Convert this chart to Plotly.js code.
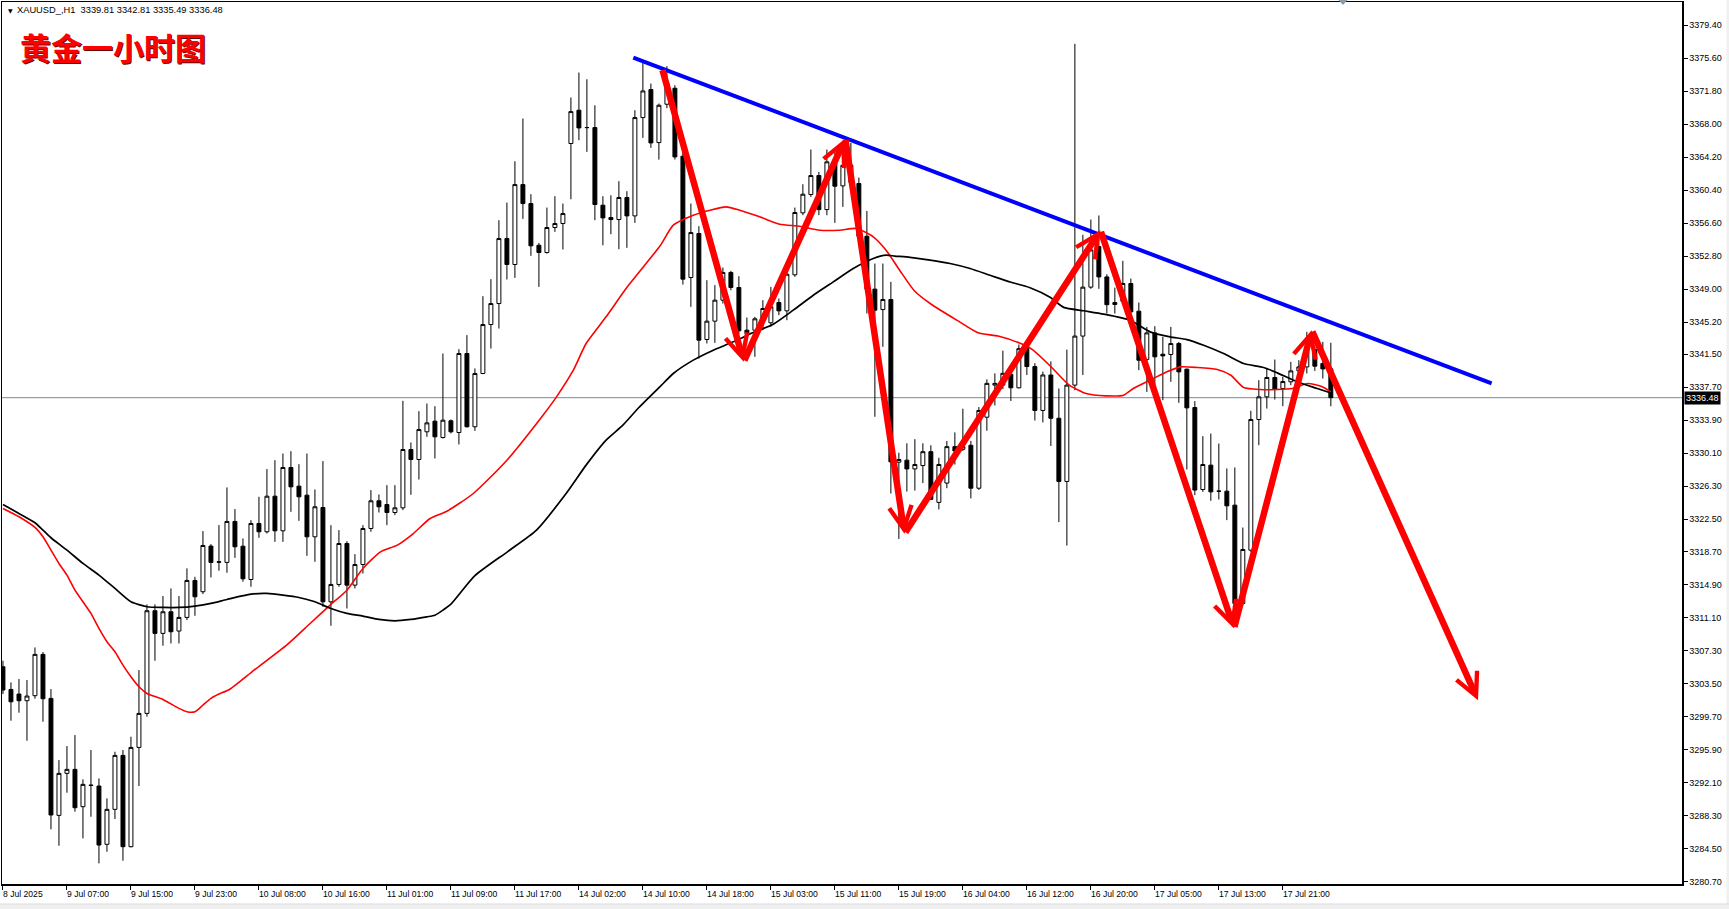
<!DOCTYPE html>
<html><head><meta charset="utf-8">
<script src="https://cdn.plot.ly/plotly-3.0.1.min.js"></script>
<style>html,body{margin:0;padding:0;background:#fff;overflow:hidden}#chart{width:1729px;height:909px}</style>
</head><body><div id="chart"></div>
<script>
// ---- data ----
const symbolTitle = 'XAUUSD_,H1\u00A0\u00A03339.81 3342.81 3335.49 3336.48';
const chartTitle = '黄金一小时图';

const openP = [3305.48,3302.86,3302.33,3301.56,3302.14,3306.90,3301.83,3288.35,3293.19,3293.65,3289.35,3291.84,3291.73,3285.01,3289.04,3295.26,3284.74,3296.18,3300.10,3311.93,
3309.32,3311.81,3309.59,3311.16,3315.42,3314.12,3319.38,3317.57,3317.50,3322.22,3319.37,3315.53,3321.99,3321.03,3325.13,3321.14,3328.44,3326.29,3325.25,3320.45,
3323.83,3312.96,3314.96,3319.68,3314.88,3317.26,3321.41,3324.60,3324.17,3323.25,3323.79,3330.51,3329.36,3332.55,3333.78,3331.89,3333.82,3332.47,3341.57,3333.13,
3339.27,3344.91,3347.33,3354.82,3351.83,3361.04,3358.85,3354.05,3353.21,3356.09,3356.55,3365.77,3369.61,3367.61,3367.61,3358.66,3357.24,3357.01,3359.55,3357.43,
3368.76,3371.99,3365.88,3370.30,3372.14,3364.31,3350.33,3355.40,3343.19,3345.30,3347.72,3350.91,3349.18,3344.26,3344.26,3345.57,3345.11,3347.45,3346.49,3350.64,
3357.78,3359.89,3362.08,3358.16,3363.46,3360.89,3363.27,3361.16,3355.09,3348.99,3346.64,3347.80,3329.05,3329.28,3328.27,3328.66,3330.26,3324.42,3326.64,3330.84,
3330.53,3331.00,3326.05,3334.23,3337.93,3337.93,3339.18,3337.62,3342.13,3340.07,3335.01,3339.10,3334.11,3326.83,3337.93,3343.58,3349.22,3353.89,3350.40,3347.22,
3347.60,3349.64,3346.45,3340.88,3343.95,3341.49,3341.46,3342.72,3339.77,3335.35,3325.90,3328.71,3325.71,3325.71,3324.10,3312.77,3318.91,3333.97,3336.58,3338.81,
3337.54,3338.31,3339.57,3340.03,3342.03,3340.42,3339.81];
const highP = [3306.17,3303.67,3304.06,3303.94,3307.70,3307.17,3302.90,3294.72,3296.34,3297.60,3292.50,3295.88,3292.61,3290.31,3295.68,3295.88,3297.41,3305.09,3312.66,3312.66,
3313.62,3314.50,3313.62,3316.81,3315.84,3321.11,3319.61,3321.80,3326.14,3323.64,3320.26,3322.37,3325.06,3328.25,3329.28,3330.05,3330.32,3328.82,3330.05,3325.90,
3329.17,3321.79,3321.22,3319.95,3318.45,3321.79,3325.83,3325.33,3326.40,3326.40,3336.12,3331.32,3334.93,3335.81,3335.50,3341.57,3333.97,3342.07,3343.69,3339.85,
3348.18,3350.14,3356.93,3358.97,3363.73,3368.65,3359.93,3354.32,3358.39,3359.70,3358.85,3371.07,3373.95,3373.18,3370.18,3359.70,3359.81,3361.43,3360.28,3369.61,
3375.06,3372.68,3370.38,3374.68,3372.49,3365.00,3358.86,3356.24,3350.02,3349.45,3351.48,3351.10,3350.48,3345.72,3345.80,3347.72,3349.25,3347.91,3351.56,3358.39,
3361.08,3365.08,3362.50,3365.08,3364.81,3365.77,3365.84,3361.85,3358.00,3351.94,3351.94,3349.83,3330.14,3331.23,3331.70,3331.23,3331.00,3329.56,3331.50,3332.48,
3335.21,3331.50,3335.40,3338.59,3339.29,3341.90,3339.69,3342.61,3342.41,3340.46,3339.48,3340.66,3337.54,3342.02,3377.26,3355.26,3357.01,3357.48,3350.70,3349.17,
3352.25,3350.21,3347.45,3344.64,3344.72,3343.49,3344.64,3342.91,3339.84,3336.08,3332.05,3332.35,3331.20,3328.32,3328.44,3321.52,3334.97,3338.50,3339.84,3340.88,
3338.88,3340.61,3340.80,3344.07,3342.34,3342.91,3342.81];
const lowP = [3302.33,3299.26,3300.18,3296.95,3301.79,3299.14,3286.74,3284.85,3290.96,3288.77,3285.70,3288.19,3282.82,3284.16,3287.93,3283.13,3284.66,3291.73,3299.72,3306.17,
3307.90,3308.16,3308.16,3310.85,3311.35,3313.85,3315.77,3316.54,3316.31,3318.03,3315.27,3314.69,3320.33,3320.83,3319.87,3319.87,3323.33,3322.29,3318.26,3317.57,
3312.38,3310.20,3314.69,3312.19,3314.50,3316.22,3321.03,3323.25,3321.79,3322.95,3323.52,3325.29,3327.05,3331.97,3329.47,3331.78,3332.36,3331.09,3333.05,3332.66,
3339.19,3342.15,3344.45,3350.10,3350.29,3357.09,3352.83,3349.25,3353.09,3355.59,3353.56,3359.35,3366.15,3364.81,3356.93,3354.05,3355.32,3353.59,3353.75,3356.63,
3366.42,3365.27,3363.92,3369.84,3363.92,3349.52,3346.95,3341.00,3342.73,3342.80,3347.33,3348.87,3343.80,3343.30,3341.19,3344.26,3344.65,3345.99,3345.41,3350.41,
3357.51,3359.62,3357.51,3357.51,3356.63,3358.47,3360.80,3354.80,3346.18,3334.28,3342.34,3325.44,3320.20,3325.66,3325.78,3326.64,3324.69,3323.60,3326.05,3328.78,
3330.34,3324.88,3325.86,3332.67,3335.59,3337.47,3336.10,3337.55,3339.10,3333.85,3333.64,3330.92,3322.15,3319.44,3337.34,3339.10,3349.03,3349.03,3346.19,3346.18,
3347.40,3346.18,3339.65,3337.15,3337.73,3336.19,3338.31,3335.89,3328.21,3325.25,3325.63,3324.60,3324.75,3322.37,3311.42,3312.58,3318.72,3331.01,3335.23,3336.27,
3335.50,3337.92,3338.11,3339.27,3339.57,3338.69,3335.49];
const closeP = [3302.79,3301.44,3301.56,3302.10,3306.90,3301.79,3288.39,3293.19,3293.65,3289.23,3291.92,3291.80,3284.93,3289.04,3295.26,3284.74,3296.18,3300.10,3311.93,3309.32,
3311.81,3309.51,3311.16,3315.42,3313.54,3319.45,3317.50,3317.53,3322.22,3319.30,3315.61,3321.99,3321.03,3325.13,3321.14,3328.44,3326.21,3325.06,3320.45,3323.91,
3312.96,3314.96,3319.68,3314.88,3317.26,3321.41,3324.60,3323.91,3323.25,3323.79,3330.51,3329.36,3332.81,3333.58,3331.97,3333.89,3332.55,3341.57,3333.13,3339.27,
3344.91,3347.33,3354.82,3351.83,3361.04,3358.85,3353.98,3353.21,3356.09,3356.55,3357.70,3369.45,3367.57,3367.61,3358.74,3357.20,3357.01,3359.55,3357.43,3368.76,
3371.83,3365.84,3370.18,3372.72,3364.23,3350.14,3355.51,3343.11,3345.30,3347.72,3350.91,3349.18,3344.19,3343.88,3345.57,3346.76,3346.95,3346.49,3350.71,3357.82,
3359.93,3362.08,3358.16,3363.66,3360.85,3363.27,3361.30,3355.09,3348.99,3346.57,3347.80,3329.09,3329.36,3328.27,3328.78,3330.26,3324.77,3328.78,3330.84,3330.34,
3330.84,3326.05,3335.01,3338.13,3338.13,3339.29,3337.62,3342.13,3340.07,3335.01,3339.10,3334.11,3326.83,3337.93,3343.58,3349.22,3353.51,3350.40,3347.20,3347.45,
3349.64,3346.37,3340.80,3343.95,3341.19,3341.30,3342.72,3339.46,3335.31,3325.83,3328.78,3325.63,3325.71,3324.02,3312.77,3318.99,3333.97,3336.58,3338.81,3337.42,
3338.34,3339.57,3340.03,3342.15,3340.11,3339.80,3336.48];

// moving averages, read at bar positions
const blackMaIdx = [0,2,4,5,6,8,10,12,14,16,18,20,22,24,26,28,31,33,35,37,39,41,43,45,47,49,51,53,54,55,56,59,63.1,66.7,70.4,72.9,75.4,77.5,79.5,82.2,83.8,86.3,88.8,91.3,93.8,96.3,98.8,101.3,103.8,106.3,108.8,110.4,111.5,113.4,115.9,118.4,120.9,123.4,125.9,128.4,130.9,132.6,135.1,137.6,140.9,143.4,145.9,148,150.1,152.6,155.1,157.6,159.3,161.8,164.3,166.2];
const blackMaVal = [3324.18,3323.14,3322.07,3321.22,3320.34,3318.92,3317.38,3316.04,3314.50,3312.96,3312.39,3312.31,3312.31,3312.47,3312.77,3313.23,3313.84,3313.92,3313.73,3313.46,3312.96,3312.19,3311.62,3311.31,3310.93,3310.77,3310.93,3311.23,3311.42,3312.00,3312.69,3315.97,3318.75,3321.22,3325.44,3328.71,3331.59,3333.32,3335.35,3337.81,3339.27,3340.81,3341.96,3342.92,3343.99,3344.95,3346.57,3348.29,3349.83,3351.37,3352.52,3352.90,3352.80,3352.65,3352.34,3351.95,3351.37,3350.59,3349.81,3349.15,3348.05,3346.89,3346.50,3346.11,3345.41,3344.07,3343.49,3343.18,3342.53,3341.57,3340.42,3339.96,3339.34,3338.31,3337.54,3336.96];
const redMaIdx = [0,2,4,5,6,7,8,9,10,11,12,13,14,15,16,17,18,20,22,23,24,25,26,27,28.3,31.4,35.5,38.4,40.9,43,45,47.2,49.3,51.3,53.4,55.5,58.8,63,67.2,69.2,71.3,72.9,75.4,77.9,80.4,82.2,83.8,86.3,88.4,90.4,92.1,94.6,97.1,99.6,102.1,104.6,106.7,108.8,110.4,112.1,113.9,116,119.4,121.9,124.4,127,128.7,131.2,133.3,135.4,137.9,140.1,141.3,143.8,145.5,147.2,149.3,151.8,153.5,155.1,157.2,159.3,161.2,163.1,164.8,166];
const redMaVal = [3323.72,3322.76,3321.53,3320.45,3318.92,3317.38,3316.04,3314.31,3312.96,3311.62,3309.89,3308.36,3307.20,3305.67,3304.32,3303.17,3302.40,3301.71,3300.68,3300.29,3300.29,3301.06,3301.83,3302.33,3302.86,3305.10,3308.00,3310.46,3312.58,3314.30,3316.80,3318.72,3319.49,3320.83,3322.56,3323.40,3325.44,3329.28,3334.09,3336.58,3339.65,3342.73,3345.80,3349.06,3351.94,3354.05,3356.36,3357.51,3358.09,3358.47,3358.09,3357.32,3356.47,3356.24,3355.78,3355.78,3355.98,3355.02,3353.48,3351.17,3348.84,3347.28,3345.33,3343.97,3343.58,3342.80,3342.02,3339.88,3337.93,3336.96,3336.69,3336.77,3337.54,3338.69,3339.46,3340.03,3339.96,3339.73,3339.07,3337.65,3337.42,3337.42,3337.54,3338.11,3337.80,3337.15];

// drawn objects (bar position, price)
const trendIdx = [78.8, 186.1];
const trendVal = [3375.68, 3338.12];
const arrowIdx = [82.4, 92.6, 105.3, 112.7, 137.2, 153.9, 163.6, 184.4];
const arrowVal = [3374.41, 3340.61, 3366.35, 3320.81, 3355.77, 3309.89, 3344.26, 3301.61];
const lastPrice = 3336.48;

const yTickVals = [3280.7,3284.5,3288.3,3292.1,3295.9,3299.7,3303.5,3307.3,3311.1,3314.9,3318.7,3322.5,3326.3,3330.1,3333.9,3337.7,3341.5,3345.2,3349.0,3352.8,3356.6,3360.4,3364.2,3368.0,3371.8,3375.6,3379.4];
const yTickText = ['3280.70','3284.50','3288.30','3292.10','3295.90','3299.70','3303.50','3307.30','3311.10','3314.90','3318.70','3322.50','3326.30','3330.10','3333.90','3337.70','3341.50','3345.20','3349.00','3352.80','3356.60','3360.40','3364.20','3368.00','3371.80','3375.60','3379.40'];
const xTickIdx = [0,8,16,24,32,40,48,56,64,72,80,88,96,104,112,120,128,136,144,152,160];
const xTickText = ['8 Jul 2025','9 Jul 07:00','9 Jul 15:00','9 Jul 23:00','10 Jul 08:00','10 Jul 16:00','11 Jul 01:00','11 Jul 09:00','11 Jul 17:00','14 Jul 02:00','14 Jul 10:00','14 Jul 18:00','15 Jul 03:00','15 Jul 11:00','15 Jul 19:00','16 Jul 04:00','16 Jul 12:00','16 Jul 20:00','17 Jul 05:00','17 Jul 13:00','17 Jul 21:00'];

// ---- chart ----
const W = 1729, H = 909, ML = 2, MR = 47, MT = 2, MB = 25;
const PW = W - ML - MR, PH = H - MT - MB;
const px = v => (v - ML) / PW;
const py = v => 1 - (v - MT) / PH;
const FAM = 'Liberation Sans, Arial, sans-serif';
const yFont = {family: FAM, size: 9, color: '#000'};
const xFont = {family: FAM, size: 8.6, color: '#000'};
const barIdx = openP.map((_, i) => i);

const traces = [
  {type: 'candlestick', x: barIdx, open: openP, high: highP, low: lowP, close: closeP,
   increasing: {line: {color: '#000', width: 1}, fillcolor: '#ffffff'},
   decreasing: {line: {color: '#000', width: 1}, fillcolor: '#000000'},
   hoverinfo: 'skip', showlegend: false},
  {type: 'scatter', mode: 'lines', x: redMaIdx, y: redMaVal, line: {color: '#ff0000', width: 1.6, shape: 'spline', smoothing: 0.6}, hoverinfo: 'skip'},
  {type: 'scatter', mode: 'lines', x: blackMaIdx, y: blackMaVal, line: {color: '#000000', width: 1.7, shape: 'spline', smoothing: 0.6}, hoverinfo: 'skip'},
  {type: 'scatter', mode: 'lines', x: trendIdx, y: trendVal, line: {color: '#0000ff', width: 4}, hoverinfo: 'skip'}
];

const annotations = [];
for (let k = 0; k < arrowIdx.length - 1; k++) {
  annotations.push({x: arrowIdx[k + 1], y: arrowVal[k + 1], ax: arrowIdx[k], ay: arrowVal[k],
    xref: 'x', yref: 'y', axref: 'x', ayref: 'y', text: '', showarrow: true,
    arrowhead: 5, arrowsize: 0.68, arrowwidth: 6.5, arrowcolor: '#ff0000', standoff: 0, startstandoff: 0});
}
xTickIdx.forEach((v, k) => annotations.push({x: v, xref: 'x', y: 0, yref: 'paper', yanchor: 'middle', yshift: -9.5,
  xanchor: 'left', xshift: -1, text: xTickText[k], showarrow: false, font: xFont, borderpad: 0}));
annotations.push({x: px(7), y: py(10), xref: 'paper', yref: 'paper', xanchor: 'left', yanchor: 'middle', text: '\u25BC', showarrow: false, font: {family: 'DejaVu Sans', size: 6, color: '#000'}, borderpad: 0});
annotations.push({x: px(16), y: py(10), xref: 'paper', yref: 'paper', xanchor: 'left', yanchor: 'middle', text: symbolTitle, showarrow: false, font: {family: FAM, size: 9.3, color: '#000'}, borderpad: 0});
annotations.push({x: px(19), y: py(47), xref: 'paper', yref: 'paper', xanchor: 'left', yanchor: 'middle', text: chartTitle, showarrow: false,
  font: {family: 'Noto Sans CJK SC', size: 31, color: '#ff0000', weight: 700, shadow: '1px 1px 0px #600000'}, borderpad: 0});
annotations.push({x: 1, xref: 'paper', xanchor: 'left', xshift: 2, y: lastPrice, yref: 'y', yanchor: 'middle', text: lastPrice.toFixed(2), showarrow: false,
  bgcolor: '#000000', font: {family: FAM, size: 9, color: '#ffffff'}, borderpad: 1});

const layout = {
  width: W, height: H, margin: {l: ML, r: MR, t: MT, b: MB, pad: 0},
  paper_bgcolor: '#ffffff', plot_bgcolor: '#ffffff', showlegend: false, hovermode: false,
  xaxis: {range: [-0.12, 209.9], showgrid: false, zeroline: false, showline: true, mirror: true, linecolor: '#000', linewidth: 1.5,
    ticks: 'outside', ticklen: 4, tickcolor: '#000', tickvals: xTickIdx, showticklabels: false, rangeslider: {visible: false}, fixedrange: true},
  yaxis: {side: 'right', range: [3280.44, 3382.08], showgrid: false, zeroline: false, showline: true, mirror: true, linecolor: '#000', linewidth: 1.5,
    ticks: 'outside', ticklen: 4, tickcolor: '#000', tickvals: yTickVals, ticktext: yTickText, tickfont: yFont, fixedrange: true},
  shapes: [
    {type: 'line', xref: 'paper', yref: 'y', x0: 0, x1: 1, y0: lastPrice, y1: lastPrice, line: {color: '#7a8a99', width: 1}, layer: 'below'},
    {type: 'path', xref: 'paper', yref: 'paper', path: 'M' + px(1338.5) + ',' + py(0) + ' L' + px(1347.5) + ',' + py(0) + ' L' + px(1343) + ',' + py(5) + ' Z', fillcolor: '#8c9aa8', line: {width: 0}},
    {type: 'rect', xref: 'paper', yref: 'paper', x0: px(1726.5), x1: px(1735), y0: py(915), y1: py(-5), fillcolor: '#f0f0f0', line: {width: 0}},
    {type: 'rect', xref: 'paper', yref: 'paper', x0: px(-5), x1: px(1735), y0: py(915), y1: py(904), fillcolor: '#f0f0f0', line: {color: '#dadada', width: 1}}
  ],
  annotations: annotations
};

Plotly.newPlot('chart', traces, layout, {staticPlot: true, displayModeBar: false});
</script>
</body></html>
